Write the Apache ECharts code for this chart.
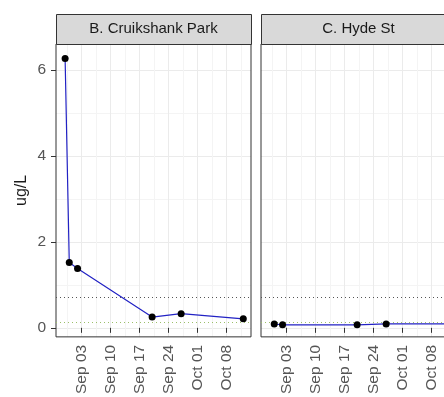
<!DOCTYPE html>
<html>
<head>
<meta charset="utf-8">
<script src="https://cdn.jsdelivr.net/npm/echarts@6/dist/echarts.min.js"></script>
<style>
  html, body { margin: 0; padding: 0; background: #fff; overflow: hidden; width: 444px; height: 397px; }
  /* the second facet runs past the right edge of the page */
  #chart { width: 470px; height: 397px; }
</style>
</head>
<body>
<div id="chart"></div>
<script>
// Facet titles
const panelTitles = ['B. Cruikshank Park', 'C. Hyde St'];

// Sample dates and concentrations (ug/L) per site
const cruikshankDates = ['2020-08-30', '2020-08-31', '2020-09-02', '2020-09-20', '2020-09-27', '2020-10-12'];
const cruikshankValues = [6.26, 1.52, 1.38, 0.25, 0.33, 0.21];
const hydeDates = ['2020-08-31', '2020-09-02', '2020-09-20', '2020-09-27', '2020-10-12'];
const hydeValues = [0.09, 0.07, 0.07, 0.09, 0.09];

// Reference levels (dotted lines)
const upperLevel = 0.72;
const lowerLevel = 0.13;

// Axis breaks
const xTickDates = ['2020-09-03', '2020-09-10', '2020-09-17', '2020-09-24', '2020-10-01', '2020-10-08'];
const xTickLabels = ['Sep 03', 'Sep 10', 'Sep 17', 'Sep 24', 'Oct 01', 'Oct 08'];
const xMinorDates = ['2020-08-30T12:00', '2020-09-06T12:00', '2020-09-13T12:00', '2020-09-20T12:00', '2020-09-27T12:00', '2020-10-04T12:00', '2020-10-11T12:00'];
const yTicks = [0, 2, 4, 6];
const yMinorTicks = [1, 3, 5];
const xRange = ['2020-08-27T19:12', '2020-10-13T20:40'];
const yRange = [-0.21, 6.6];

const ts = s => Date.parse(s + (s.length === 10 ? 'T00:00:00Z' : ':00Z'));

const FONT = '"Liberation Sans", Arial, sans-serif';
const labelByTime = {};
xTickDates.forEach((d, i) => { labelByTime[ts(d)] = xTickLabels[i]; });

// Panel layout
const panelTop = 44, panelHeight = 295, panelWidth = 195, stripHeight = 30;
const panelLefts = [56, 261];

const grids = panelLefts.map(l => ({
  left: l, top: panelTop, width: panelWidth, height: panelHeight,
  show: true, borderColor: '#333', borderWidth: 1, backgroundColor: 'transparent', z: 3
}));

const xAxes = [], yAxes = [];
panelLefts.forEach((l, g) => {
  xAxes.push({
    type: 'value', gridIndex: g, min: ts(xRange[0]), max: ts(xRange[1]),
    axisLine: { show: false },
    axisTick: { show: true, length: 5, lineStyle: { color: '#333' }, customValues: xTickDates.map(ts) },
    axisLabel: {
      show: true, rotate: 90, margin: 8, color: '#555', fontSize: 15.5, fontFamily: FONT,
      customValues: xTickDates.map(ts),
      formatter: v => labelByTime[v] || ''
    },
    splitLine: { show: true, lineStyle: { color: '#ebebeb', width: 1 } }
  });
  xAxes.push({
    type: 'value', gridIndex: g, position: 'bottom', min: ts(xRange[0]), max: ts(xRange[1]),
    axisLine: { show: false }, axisLabel: { show: false },
    axisTick: { show: false, customValues: xMinorDates.map(ts) },
    splitLine: { show: true, lineStyle: { color: '#f4f4f4', width: 1 } }
  });
  yAxes.push({
    type: 'value', gridIndex: g, min: yRange[0], max: yRange[1],
    axisLine: { show: false },
    axisTick: { show: g === 0, length: 5, lineStyle: { color: '#333' }, customValues: yTicks },
    axisLabel: { show: g === 0, margin: 10, color: '#555', fontSize: 15.5, fontFamily: FONT, customValues: yTicks },
    splitLine: { show: true, lineStyle: { color: '#ebebeb', width: 1 } },
    name: g === 0 ? 'ug/L' : '', nameLocation: 'middle', nameRotate: 90, nameGap: 26,
    nameTextStyle: { color: '#1a1a1a', fontSize: 16, fontFamily: FONT }
  });
  yAxes.push({
    type: 'value', gridIndex: g, position: 'left', min: yRange[0], max: yRange[1],
    axisLine: { show: false }, axisLabel: { show: false },
    axisTick: { show: false, customValues: yMinorTicks },
    splitLine: { show: true, lineStyle: { color: '#f4f4f4', width: 1 } }
  });
});

function siteSeries(dates, values, g) {
  return {
    type: 'line', xAxisIndex: g * 2, yAxisIndex: g * 2,
    data: dates.map((d, i) => [ts(d), values[i]]),
    symbol: 'circle', symbolSize: 7,
    itemStyle: { color: '#000' },
    lineStyle: { color: '#2222c4', width: 1.2 },
    silent: true, z: 5,
    markLine: {
      silent: true, symbol: 'none', label: { show: false },
      data: [
        { yAxis: upperLevel, lineStyle: { color: '#555', type: [1, 3], width: 1 } },
        { yAxis: lowerLevel, lineStyle: { color: '#9cbf6a', type: [1, 3], width: 1 } }
      ]
    }
  };
}

// Facet strips
const graphics = [];
panelLefts.forEach((l, g) => {
  graphics.push({
    type: 'rect', z: 10,
    shape: { x: l + 0.5, y: panelTop - stripHeight + 0.5, width: panelWidth, height: stripHeight },
    style: { fill: '#d9d9d9', stroke: '#333', lineWidth: 1 }
  });
  graphics.push({
    type: 'text', z: 11,
    x: l + panelWidth / 2, y: panelTop - stripHeight / 2,
    style: { text: panelTitles[g], fill: '#1a1a1a', font: '15px ' + FONT, textAlign: 'center', textVerticalAlign: 'middle' }
  });
});

const chart = echarts.init(document.getElementById('chart'), null, { renderer: 'canvas' });
chart.setOption({
  animation: false,
  backgroundColor: '#fff',
  grid: grids,
  xAxis: xAxes,
  yAxis: yAxes,
  series: [
    siteSeries(cruikshankDates, cruikshankValues, 0),
    siteSeries(hydeDates, hydeValues, 1)
  ],
  graphic: graphics
});
</script>
</body>
</html>
